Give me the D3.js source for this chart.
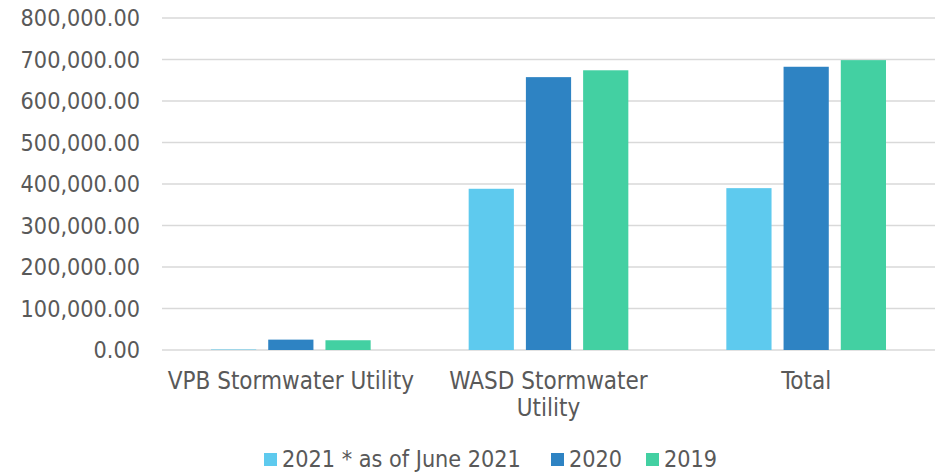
<!DOCTYPE html>
<html>
<head>
<meta charset="utf-8">
<script src="https://cdn.jsdelivr.net/npm/d3@7"></script>
<style>
  body { margin: 0; background: #fff; }
  text { font-family: "DejaVu Sans Condensed", "DejaVu Sans", sans-serif; fill: #595959; }
</style>
</head>
<body>
<div id="chart"></div>
<script>
const categories = ["VPB Stormwater Utility", "WASD Stormwater Utility", "Total"];
const catLines = [["VPB Stormwater Utility"], ["WASD Stormwater", "Utility"], ["Total"]];
const seriesNames = ["2021 * as of June 2021", "2020", "2019"];
const values2021 = [1200, 388500, 390000];
const values2020 = [25000, 657500, 682500];
const values2019 = [23500, 674000, 698500];
const yTicks = [0, 100000, 200000, 300000, 400000, 500000, 600000, 700000, 800000];
const colors = ["#5ECAEE", "#2E83C3", "#43D0A2"];

const W = 946, H = 475;
const margin = { top: 18, right: 11, bottom: 125, left: 162 },
    width = W - margin.left - margin.right,
    height = H - margin.top - margin.bottom;

const allValues = [values2021, values2020, values2019];

const svg = d3.select("#chart")
    .append("svg")
    .attr("width", W)
    .attr("height", H)
    .append("g")
    .attr("transform", `translate(${margin.left}, ${margin.top})`);

// scales
const x0 = d3.scaleBand()
    .domain(categories)
    .range([0, width])
    .padding(0);

const bandPad = 49;
const x1 = d3.scaleBand()
    .domain(seriesNames)
    .range([bandPad, x0.bandwidth() - bandPad])
    .paddingInner(0.21);

const y = d3.scaleLinear()
    .domain([0, 800000])
    .range([height, 0]);

// gridlines
svg.append("g")
    .selectAll("line")
    .data(yTicks)
    .join("line")
    .attr("x1", 0)
    .attr("x2", width)
    .attr("y1", d => y(d))
    .attr("y2", d => y(d))
    .attr("stroke", "#D9D9D9")
    .attr("stroke-width", 1.5);

// y axis labels
const fmt = d3.format(",.2f");
svg.append("g")
    .selectAll("text")
    .data(yTicks)
    .join("text")
    .attr("x", -22)
    .attr("y", d => y(d))
    .attr("dy", "0.36em")
    .attr("text-anchor", "end")
    .style("font-size", "23.2px")
    .text(d => fmt(d));

// bars
const groups = svg.append("g")
    .selectAll("g")
    .data(categories)
    .join("g")
    .attr("transform", d => `translate(${x0(d)}, 0)`);

groups.selectAll("rect")
    .data((d, i) => seriesNames.map((s, j) => ({ s, j, v: allValues[j][i] })))
    .join("rect")
    .attr("x", d => x1(d.s))
    .attr("width", x1.bandwidth())
    .attr("y", d => y(d.v))
    .attr("height", d => height - y(d.v))
    .attr("fill", d => colors[d.j]);

// category labels
svg.append("g")
    .selectAll("text")
    .data(categories)
    .join("text")
    .attr("x", d => x0(d) + x0.bandwidth() / 2)
    .attr("y", height + 39)
    .attr("text-anchor", "middle")
    .style("font-size", "24px")
    .each(function (d, i) {
        d3.select(this).selectAll("tspan")
            .data(catLines[i])
            .join("tspan")
            .attr("x", x0(d) + x0.bandwidth() / 2)
            .attr("dy", (t, k) => k === 0 ? 0 : 27)
            .text(t => t);
    });

// legend
const legendX = [264, 551, 646];
const legend = svg.append("g")
    .attr("transform", `translate(${-margin.left}, ${-margin.top})`);
const li = legend.selectAll("g")
    .data(seriesNames)
    .join("g")
    .attr("transform", (d, i) => `translate(${legendX[i]}, 453)`);
li.append("rect")
    .attr("width", 13)
    .attr("height", 13)
    .attr("fill", (d, i) => colors[i]);
li.append("text")
    .attr("x", 18)
    .attr("y", 14)
    .style("font-size", "23.2px")
    .text(d => d);
</script>
</body>
</html>
